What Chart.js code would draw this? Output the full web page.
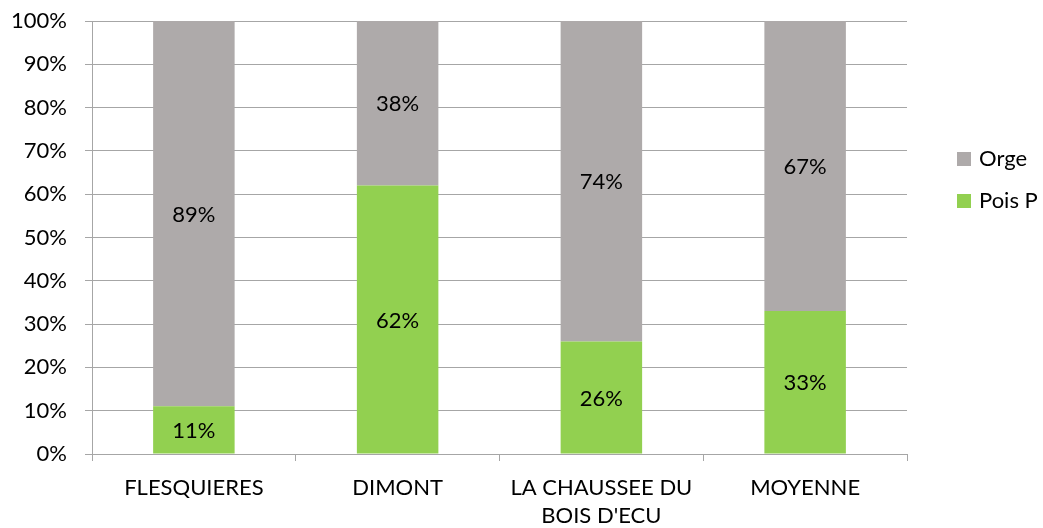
<!DOCTYPE html>
<html>
<head>
<meta charset="utf-8">
<script src="https://cdn.jsdelivr.net/npm/chart.js@4"></script>
<style>
  html, body { margin: 0; padding: 0; background: #fff; }
  #wrap { width: 1043px; height: 528px; }
</style>
</head>
<body>
<div id="wrap"><canvas id="chart" width="1043" height="528"></canvas></div>
<script>
const categories = ['FLESQUIERES', 'DIMONT', ['LA CHAUSSEE DU', "BOIS D'ECU"], 'MOYENNE'];
const poisValues = [11, 62, 26, 33];
const orgeValues = [89, 38, 74, 67];
const yTicks = [0, 10, 20, 30, 40, 50, 60, 70, 80, 90, 100];

const FONT = "Lato, 'Open Sans', sans-serif";
const SIZE = 22;
const GRID = '#a6a6a6';

// value labels in the middle of each segment
const barLabels = {
  id: 'barLabels',
  afterDatasetsDraw(chart) {
    const ctx = chart.ctx;
    ctx.save();
    ctx.font = SIZE + 'px ' + FONT;
    ctx.fillStyle = '#000';
    ctx.textAlign = 'center';
    ctx.textBaseline = 'middle';
    chart.data.datasets.forEach((ds, i) => {
      chart.getDatasetMeta(i).data.forEach((bar, j) => {
        const mid = (bar.y + bar.base) / 2;
        ctx.fillText(ds.data[j] + '%', bar.x, mid + 1);
      });
    });
    ctx.restore();
  }
};

// legend on the right, top series listed first
const sideLegend = {
  id: 'sideLegend',
  afterDraw(chart) {
    const ctx = chart.ctx;
    const items = chart.data.datasets.slice().reverse();
    ctx.save();
    ctx.font = SIZE + 'px ' + FONT;
    ctx.textBaseline = 'middle';
    items.forEach((ds, k) => {
      const y = 159 + k * 42;
      ctx.fillStyle = ds.backgroundColor;
      ctx.fillRect(957, y - 7, 14, 14);
      ctx.fillStyle = '#000';
      ctx.fillText(ds.label, 979, y);
    });
    ctx.restore();
  }
};

new Chart(document.getElementById('chart'), {
  type: 'bar',
  data: {
    labels: categories,
    datasets: [
      { label: 'Pois P', data: poisValues, backgroundColor: '#92d050' },
      { label: 'Orge', data: orgeValues, backgroundColor: '#aeaaaa' }
    ]
  },
  options: {
    responsive: false,
    animation: false,
    layout: { padding: { left: 0, right: 136, top: 21, bottom: 0 } },
    datasets: { bar: { barPercentage: 0.4, categoryPercentage: 1 } },
    plugins: { legend: { display: false }, tooltip: { enabled: false } },
    scales: {
      x: {
        stacked: true,
        afterFit: s => { s.height = 74; s.paddingLeft = 0; s.paddingRight = 0; },
        grid: { offset: true, drawOnChartArea: false, tickLength: 7, color: GRID },
        border: { color: GRID },
        ticks: { color: '#000', font: { family: FONT, size: SIZE, lineHeight: 1.27 }, padding: 13, maxRotation: 0, autoSkip: false }
      },
      y: {
        stacked: true,
        min: 0,
        max: 100,
        afterFit: s => { s.width = 92; s.paddingTop = 0; s.paddingBottom = 0; },
        afterBuildTicks: s => { s.ticks = yTicks.map(v => ({ value: v })); },
        grid: { tickLength: 7, color: GRID },
        border: { color: GRID },
        ticks: { color: '#000', font: { family: FONT, size: SIZE }, padding: 18, callback: v => v + '%' }
      }
    }
  },
  plugins: [barLabels, sideLegend]
});
</script>
</body>
</html>
